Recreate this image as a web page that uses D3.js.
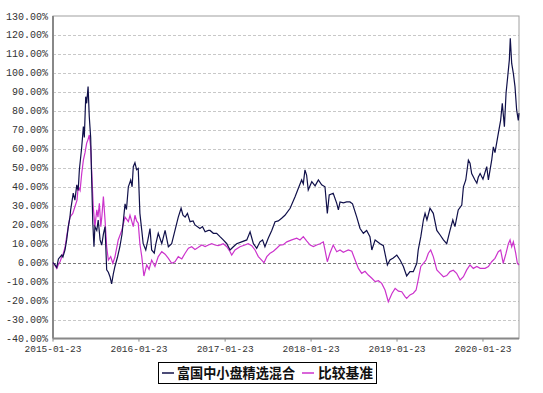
<!DOCTYPE html>
<html>
<head>
<meta charset="utf-8">
<script src="https://cdn.jsdelivr.net/npm/d3@7"></script>
<style>
  body { margin: 0; background: #fff; }
  svg { display: block; }
</style>
</head>
<body>
<div id="chart"></div>
<script>
// fund cumulative return (%)
const fundDates = [
  "2015-01-23","2015-01-31","2015-02-08","2015-02-15","2015-03-01","2015-03-06","2015-03-15","2015-03-22","2015-03-29","2015-04-05",
  "2015-04-08","2015-04-12","2015-04-19","2015-04-26","2015-05-04","2015-05-10","2015-05-15","2015-05-25","2015-06-01","2015-06-05",
  "2015-06-11","2015-06-15","2015-06-21","2015-06-26","2015-07-02","2015-07-06","2015-07-11","2015-07-16","2015-07-20","2015-07-28",
  "2015-08-03","2015-08-11","2015-08-18","2015-08-25","2015-09-01","2015-09-08","2015-09-15","2015-09-22","2015-09-29","2015-10-06",
  "2015-10-13","2015-10-24","2015-11-03","2015-11-12","2015-11-25","2015-12-01","2015-12-09","2015-12-19","2015-12-25","2015-12-30",
  "2016-01-06","2016-01-13","2016-01-20","2016-01-27","2016-02-04","2016-02-10","2016-02-21","2016-03-01","2016-03-10","2016-03-17",
  "2016-03-28","2016-04-04","2016-04-14","2016-04-29","2016-05-13","2016-05-27","2016-06-10","2016-06-24","2016-07-08","2016-07-20",
  "2016-07-28","2016-08-06","2016-08-16","2016-08-27","2016-09-09","2016-09-17","2016-10-08","2016-10-19","2016-10-30","2016-11-13",
  "2016-11-20","2016-12-04","2016-12-18","2017-01-01","2017-01-15","2017-01-30","2017-02-13","2017-02-27","2017-03-13","2017-04-03",
  "2017-04-25","2017-05-09","2017-05-23","2017-06-06","2017-06-20","2017-07-01","2017-07-11","2017-07-25","2017-08-09","2017-08-23",
  "2017-09-06","2017-09-20","2017-10-04","2017-10-26","2017-11-16","2017-11-30","2017-12-14","2017-12-21","2017-12-28","2018-01-04",
  "2018-01-11","2018-01-26","2018-02-09","2018-02-23","2018-03-09","2018-03-23","2018-04-02","2018-04-10","2018-04-27","2018-05-12",
  "2018-05-19","2018-05-26","2018-06-09","2018-06-23","2018-07-07","2018-07-18","2018-08-05","2018-08-19","2018-09-02","2018-09-16",
  "2018-09-30","2018-10-08","2018-10-22","2018-11-12","2018-11-26","2018-12-13","2018-12-24","2019-01-07","2019-01-22","2019-02-05",
  "2019-02-19","2019-03-05","2019-03-19","2019-04-02","2019-04-17","2019-04-23","2019-05-04","2019-05-15","2019-05-22","2019-05-30",
  "2019-06-12","2019-06-26","2019-07-11","2019-07-25","2019-08-08","2019-08-22","2019-09-05","2019-09-17","2019-09-26","2019-10-10",
  "2019-10-25","2019-11-01","2019-11-11","2019-11-22","2019-11-29","2019-12-06","2019-12-13","2019-12-20","2019-12-28","2020-01-03",
  "2020-01-11","2020-01-23","2020-02-08","2020-02-15","2020-02-29","2020-03-07","2020-03-14","2020-03-28","2020-04-07","2020-04-14",
  "2020-04-23","2020-04-30","2020-05-07","2020-05-14","2020-05-18","2020-05-24","2020-05-31","2020-06-07","2020-06-14","2020-06-21",
  "2020-06-24"
];
const fundValues = [
  0, -1, -2.5, 2, 4, 3, 6.7, 12, 19, 24,
  27.8, 31, 36.7, 33, 41, 38, 49, 61, 71.7, 66,
  87.5, 84, 92.8, 77, 66, 45, 21, 8.4, 19, 17,
  22.5, 12, 9.3, 15, 19, -3.8, -5, -7.4, -11.2, -6,
  -2, 3, 8.4, 15, 31, 28, 40, 43.6, 40, 50.6,
  52.7, 49, 49.7, 26, 17, 10, 6.7, 12, 18, 6.7,
  5, 10, 15.5, 10, 17, 8.4, 10, 17, 24, 28.7,
  25, 24, 26, 21.6, 22, 19.9, 18, 19, 16.3, 17,
  17, 15.5, 15.5, 13.7, 12, 10, 6.7, 8.4, 10, 11,
  12, 16.3, 10, 7.6, 11, 12, 8.4, 12.9, 17, 21.6,
  22, 23.4, 25, 28.7, 34.8, 39.2, 43.6, 41.5, 48.9, 46.2,
  38.3, 42.7, 40.5, 43.6, 41, 40, 26, 35.7, 36.6, 31.3,
  27.8, 32, 31.5, 32, 32, 31, 24, 18, 15.5, 17,
  13.7, 6.7, 12, 10, 9, -1.2, 1.4, 2.5, 4, 1.4,
  -2, -7, -4.7, -4.7, -0.3, 6.7, 13.7, 22.5, 26, 22.5,
  28.7, 26, 17, 14.6, 12, 10, 17, 22.5, 19, 27.8,
  30.4, 40, 43.6, 54, 52.4, 47, 45.3, 43.6, 41.9, 45,
  47, 44, 50.6, 43.6, 54, 61, 58, 68, 75, 84,
  71.7, 89.3, 98, 106.9, 118.3, 105, 99.8, 92.8, 80.5, 75,
  78.8
];

// benchmark cumulative return (%)
const benchDates = [
  "2015-01-23","2015-01-31","2015-02-08","2015-02-15","2015-02-22","2015-03-01","2015-03-08","2015-03-15","2015-03-22","2015-03-29",
  "2015-04-05","2015-04-17","2015-04-26","2015-05-05","2015-05-10","2015-05-18","2015-05-25","2015-06-01","2015-06-08","2015-06-15",
  "2015-06-21","2015-06-26","2015-07-02","2015-07-06","2015-07-13","2015-07-20","2015-07-28","2015-08-02","2015-08-08","2015-08-14",
  "2015-08-19","2015-08-25","2015-09-01","2015-09-08","2015-09-15","2015-09-25","2015-10-04","2015-10-13","2015-10-27","2015-11-11",
  "2015-11-25","2015-12-09","2015-12-16","2015-12-23","2015-12-30","2016-01-06","2016-01-13","2016-01-20","2016-01-27","2016-02-04",
  "2016-02-13","2016-02-25","2016-03-06","2016-03-17","2016-03-31","2016-04-14","2016-04-29","2016-05-13","2016-05-27","2016-06-10",
  "2016-06-24","2016-07-08","2016-07-23","2016-08-06","2016-08-20","2016-09-03","2016-09-17","2016-09-30","2016-10-16","2016-10-30",
  "2016-11-13","2016-11-27","2016-12-11","2016-12-24","2017-01-06","2017-01-15","2017-01-30","2017-02-13","2017-02-20","2017-03-06",
  "2017-03-27","2017-04-17","2017-05-01","2017-05-16","2017-05-30","2017-06-13","2017-06-27","2017-07-07","2017-07-19","2017-08-02",
  "2017-08-16","2017-08-30","2017-09-13","2017-09-27","2017-10-12","2017-11-02","2017-11-23","2017-12-07","2017-12-21","2018-01-04",
  "2018-01-19","2018-02-02","2018-02-16","2018-03-02","2018-03-16","2018-03-23","2018-04-02","2018-04-13","2018-04-27","2018-05-12",
  "2018-05-26","2018-06-09","2018-06-30","2018-07-15","2018-07-29","2018-08-12","2018-08-26","2018-09-09","2018-09-23","2018-10-08",
  "2018-10-22","2018-11-05","2018-11-19","2018-12-03","2018-12-17","2019-01-02","2019-01-15","2019-01-29","2019-02-12","2019-02-26",
  "2019-03-05","2019-03-19","2019-04-02","2019-04-14","2019-04-23","2019-05-04","2019-05-15","2019-05-26","2019-06-05","2019-06-15",
  "2019-06-26","2019-07-11","2019-07-25","2019-08-08","2019-08-22","2019-09-05","2019-09-19","2019-10-03","2019-10-18","2019-11-01",
  "2019-11-15","2019-11-29","2019-12-13","2019-12-28","2020-01-11","2020-02-01","2020-02-15","2020-02-29","2020-03-14","2020-03-28",
  "2020-04-07","2020-04-18","2020-04-30","2020-05-10","2020-05-17","2020-05-24","2020-05-31","2020-06-10","2020-06-17","2020-06-24"
];
const benchValues = [
  0, -1.5, -3, -1, 0.5, 3, 5, 8, 13.7, 19,
  24, 26, 29.5, 33, 40, 38, 47, 54, 58, 63,
  65, 67.3, 61, 48.9, 29.5, 19, 27.8, 24, 31.3, 19,
  25, 34.8, 22.5, 8.4, 1.4, 3.2, -0.3, 3, 12, 17,
  24, 21.6, 25, 22, 19, 25, 22, 20.8, 10, 3.2,
  -7, -1.2, -3.5, 1.4, -2, 3.2, 5.8, 4.5, 2.3, -0.3,
  0.5, 3.2, 2, 5, 7.6, 8.4, 7, 8, 9.3, 8.5,
  9.3, 10, 9.3, 9, 9.5, 10, 8.4, 5.8, 4, 6.7,
  8.4, 9.3, 10, 9, 6.7, 3.2, 1.4, 0, 3.2, 5,
  6, 7.6, 9.3, 9.5, 11, 12, 12.9, 12, 13.7, 11.5,
  9.3, 8.5, 9.3, 10, 11, 6.7, 0.5, 5, 9.3, 5.8,
  6.7, 5.5, 6.7, 6, 1.4, -3, -5.6, -4.5, -6.5, -8.2,
  -10, -9.5, -10.9, -14.4, -20.6, -16.1, -13.5, -15, -15.3, -17.9,
  -18.8, -17, -16.1, -14.4, -9.1, -2, -0.3, 1.4, 5, 6.7,
  3.2, -3.8, -5.6, -7.4, -6.8, -4.7, -4, -5.6, -9.1, -7.4,
  -3.8, -1.2, -3, -2, -3, -3, -2, 0.5, 2.3, 5.8,
  6.7, -0.3, 5, 10, 12, 8.4, 11, 5, -0.3, -1.2
];

const yTickValues = [-40, -30, -20, -10, 0, 10, 20, 30, 40, 50, 60, 70, 80, 90, 100, 110, 120, 130];
const xTickLabels = ["2015-01-23", "2016-01-23", "2017-01-23", "2018-01-23", "2019-01-23", "2020-01-23"];
const seriesNames = ["富国中小盘精选混合", "比较基准"];

const width = 543;
const height = 393;
const plot = { left: 53, right: 519, top: 16, bottom: 338.6 };

const parse = d3.timeParse("%Y-%m-%d");

const x = d3.scaleTime()
    .domain([parse("2015-01-23"), parse("2020-06-24")])
    .range([plot.left, plot.right]);

const y = d3.scaleLinear()
    .domain([-40, 130])
    .range([plot.bottom, plot.top]);

const svg = d3.select('#chart')
    .append('svg')
    .attr('width', width)
    .attr('height', height);

// grid lines
svg.append('g')
    .selectAll('line')
    .data(yTickValues.filter(v => v > -40 && v < 130))
    .enter()
    .append('line')
    .attr('x1', plot.left)
    .attr('x2', plot.right)
    .attr('y1', d => Math.round(y(d)) + 0.5)
    .attr('y2', d => Math.round(y(d)) + 0.5)
    .attr('stroke', d => d === 0 ? '#777' : '#c8c8c8')
    .attr('stroke-dasharray', '3,2')
    .attr('stroke-width', 1);

// frame
svg.append('rect')
    .attr('x', plot.left)
    .attr('y', plot.top)
    .attr('width', plot.right - plot.left)
    .attr('height', plot.bottom - plot.top)
    .attr('fill', 'none')
    .attr('stroke', '#a0a0a0')
    .attr('stroke-width', 1);

// left and bottom axis lines (heavier)
svg.append('line')
    .attr('x1', plot.left).attr('x2', plot.left)
    .attr('y1', plot.top).attr('y2', plot.bottom)
    .attr('stroke', '#888').attr('stroke-width', 2);
svg.append('line')
    .attr('x1', plot.left).attr('x2', plot.right)
    .attr('y1', plot.bottom).attr('y2', plot.bottom)
    .attr('stroke', '#888').attr('stroke-width', 2);

// y tick labels
svg.append('g')
    .selectAll('text')
    .data(yTickValues)
    .enter()
    .append('text')
    .attr('x', 48)
    .attr('y', d => y(d))
    .attr('dy', '0.35em')
    .attr('text-anchor', 'end')
    .style('font-family', '"Liberation Mono", "DejaVu Sans Mono", monospace')
    .style('font-size', '10px')
    .style('fill', '#333')
    .text(d => d.toFixed(2) + '%');

// x tick labels + small ticks
const xTicks = svg.append('g')
    .selectAll('g')
    .data(xTickLabels)
    .enter()
    .append('g')
    .attr('transform', d => `translate(${x(parse(d))},${plot.bottom})`);

xTicks.append('line')
    .attr('y1', 0)
    .attr('y2', 3)
    .attr('stroke', '#888');

xTicks.append('text')
    .attr('y', 10)
    .attr('dy', '0.35em')
    .attr('text-anchor', 'middle')
    .style('font-family', '"Liberation Mono", "DejaVu Sans Mono", monospace')
    .style('font-size', '9.5px')
    .style('fill', '#333')
    .text(d => d);

// lines
const line = d3.line()
    .x(d => x(d[0]))
    .y(d => y(d[1]));

const benchData = benchDates.map((d, i) => [parse(d), benchValues[i]]);
const fundData = fundDates.map((d, i) => [parse(d), fundValues[i]]);

svg.append('path')
    .datum(benchData)
    .attr('d', line)
    .attr('fill', 'none')
    .attr('stroke', '#cc33cc')
    .attr('stroke-width', 1.2);

svg.append('path')
    .datum(fundData)
    .attr('d', line)
    .attr('fill', 'none')
    .attr('stroke', '#10104a')
    .attr('stroke-width', 1.2);

// legend
const legend = svg.append('g');

legend.append('rect')
    .attr('x', 158.5)
    .attr('y', 362.5)
    .attr('width', 218)
    .attr('height', 21)
    .attr('fill', '#fff')
    .attr('stroke', '#000')
    .attr('stroke-width', 1);

const legendItems = [
    { name: seriesNames[0], color: '#10104a', x: 162, textX: 177, len: 118 },
    { name: seriesNames[1], color: '#cc33cc', x: 302, textX: 318, len: 55 }
];

legendItems.forEach(item => {
    legend.append('line')
        .attr('x1', item.x)
        .attr('x2', item.x + 12)
        .attr('y1', 373)
        .attr('y2', 373)
        .attr('stroke', item.color)
        .attr('stroke-width', 1.5);
    legend.append('text')
        .attr('x', item.textX)
        .attr('y', 373)
        .attr('dy', '0.35em')
        .attr('textLength', item.len)
        .attr('lengthAdjust', 'spacingAndGlyphs')
        .style('font-family', '"Noto Sans CJK SC", sans-serif')
        .style('font-size', '14px')
        .style('font-weight', 'bold')
        .style('fill', '#111')
        .text(item.name);
});
</script>
</body>
</html>
